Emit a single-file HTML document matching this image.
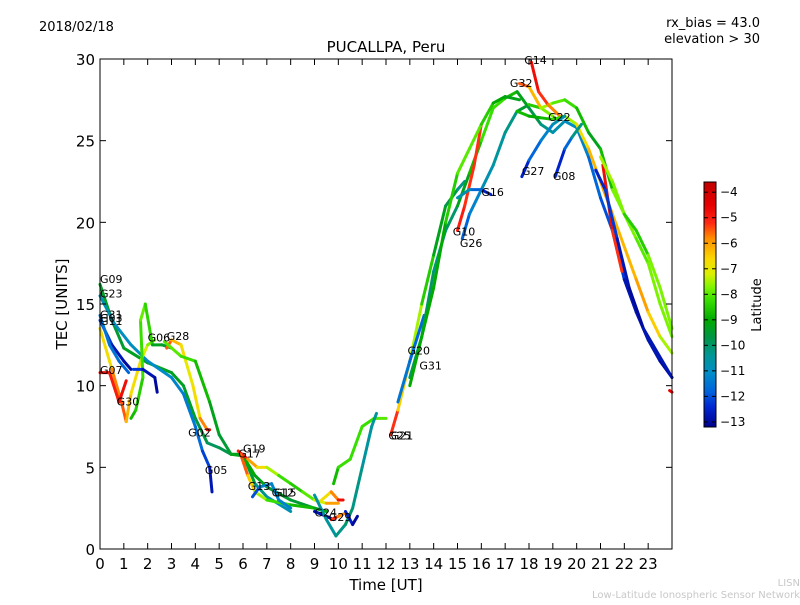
<!DOCTYPE html>
<html><head><meta charset="utf-8"><style>
body{margin:0;background:#fff;}
svg text{font-family:"DejaVu Sans","Liberation Sans",sans-serif;}
</style></head><body>
<svg id="chart" width="800" height="600" xmlns="http://www.w3.org/2000/svg">
<defs>
<linearGradient id="cbgrad" x1="0" y1="0" x2="0" y2="1"></linearGradient>
</defs>
<text x="39" y="31" font-size="13">2018/02/18</text>
<text x="760" y="27" font-size="13" text-anchor="end">rx_bias = 43.0</text>
<text x="760" y="43" font-size="13" text-anchor="end">elevation &gt; 30</text>
<text x="386" y="52" font-size="15" text-anchor="middle">PUCALLPA, Peru</text>
<g id="plot"></g>
<g id="axes"></g>
<text x="386" y="590" font-size="15" text-anchor="middle">Time [UT]</text>
<text transform="translate(67,304) rotate(-90)" font-size="15" text-anchor="middle">TEC [UNITS]</text>
<g id="cbar"></g>
<text transform="translate(761,305) rotate(-90)" font-size="13" text-anchor="middle">Latitude</text>
<text x="800" y="586" font-size="10" fill="#c8c8c8" text-anchor="end">LISN</text>
<text x="800" y="598" font-size="10" fill="#c8c8c8" text-anchor="end">Low-Latitude Ionospheric Sensor Network</text>
</svg>
<script>
// data: each track = array of [timeUT, tec, latitude]
const tracks = [
 [[0,16.2,-9.3],[0.5,14,-9.5],[1,12.3,-9.5],[2,11.4,-9.2],[3,10.8,-9.3],[3.5,10,-9.3],[4,8,-9.5],[4.5,6.5,-9.8],[5,6.2,-10],[5.5,5.8,-9.5],[6,5.8,-9],[6.5,4,-10],[7,3.2,-10.5],[8,2.3,-11]],
 [[0,15.5,-10.5],[0.6,13.8,-11],[1.3,12.5,-11],[2,11.5,-11],[3,10.5,-11.2],[3.5,9.5,-11.3],[4,7.5,-11.5],[4.3,6,-11.8],[4.6,5,-12.5],[4.7,3.5,-13]],
 [[0,14,-12],[0.5,12.5,-12.5],[1,11.5,-13],[1.3,11,-13]],
 [[0,14.3,-11.5],[0.4,12.5,-11.5],[0.8,11.5,-11.5],[1.2,10.8,-12]],
 [[0,13.5,-7],[0.5,11,-6.5],[0.9,9,-5],[1.1,7.8,-6],[1.3,9.5,-6.5],[1.7,11.5,-7],[2,12.5,-7.5],[2.3,12.8,-8]],
 [[0,10.8,-4.5],[0.4,10.8,-5],[0.8,9,-5],[1.1,10.3,-4.5]],
 [[1.3,8,-9],[1.5,8.5,-8.5],[1.8,10.5,-8.5],[1.7,14,-8],[1.9,15,-7.8],[2.2,12.5,-9],[2.6,12.5,-9.5],[3,12.3,-9.5]],
 [[1.4,11,-12],[1.8,11,-12.5],[2.3,10.5,-13],[2.4,9.6,-13]],
 [[2.8,12.3,-5],[3,12.8,-6],[3.4,12.5,-6.5],[3.6,11.5,-7],[3.9,10,-7],[4.2,8,-6.5],[4.5,7.3,-5],[4.6,7.3,-4.5]],
 [[2.7,12.7,-8],[3.4,11.8,-8],[4,11.5,-8.5],[4.6,9,-9],[5,7,-9.5],[5.5,5.8,-9.5],[6,5.7,-9],[6.5,4.5,-9],[7,3.8,-9.5],[8,3,-9.5],[9,2.5,-9.5],[9.5,2.3,-9.5]],
 [[5.8,6,-4.5],[6.2,5.5,-5.5],[6.6,5,-6.5],[7,5,-7],[7.5,4.5,-8],[8,4,-8.5],[8.5,3.5,-8.5],[9,3,-7.5],[9.5,2.8,-7],[10,2.8,-5]],
 [[5.9,5.8,-5],[6.2,4.5,-6],[6.5,3.5,-7],[7,3,-8],[8,2.7,-8.5],[9,2.5,-9],[9.5,2.3,-9.5]],
 [[6.4,3.2,-12.5],[6.7,3.8,-11.5],[7.2,4,-11],[7.5,3,-11.5],[8,2.5,-11]],
 [[9,2.3,-12.5],[9.5,2,-13],[9.8,1.8,-13]],
 [[9.7,1.8,-5],[10,2,-5.5],[10.3,2.2,-6]],
 [[9.3,3,-7],[9.7,3.5,-6.5],[10,3,-5],[10.2,3,-4.5]],
 [[9.8,4,-9],[10,5,-8.5],[10.5,5.5,-8],[11,7.5,-8.5],[11.5,8,-8],[12,8,-8]],
 [[9,3.3,-10.5],[9.5,1.8,-10.5],[9.9,0.8,-10.5],[10.3,1.5,-10],[10.6,2.5,-10],[11,5,-10.5],[11.4,7.5,-10.5],[11.6,8.3,-10.5]],
 [[10.3,2.3,-12],[10.6,1.5,-13],[10.8,2,-13]],
 [[12.2,7,-4.5],[12.5,8.5,-6],[13,11.5,-7],[13.5,15,-8],[14,18,-9],[14.5,21,-9.5],[15,22,-10],[15.3,22.5,-10.5]],
 [[12.5,9,-12],[13,11.5,-11],[13.6,14.3,-12.5]],
 [[13,10.5,-10],[13.5,13,-10],[14,17,-10],[14.5,19.5,-10.5],[15,21,-9.5],[15.5,23,-9],[16,25,-8.5],[16.5,27,-8],[17,27.6,-8.5],[17.5,28,-9],[18,27,-9.5],[18.5,26,-10],[19,25.5,-10.5],[19.5,26.2,-11],[20,25.8,-11],[20.5,24,-11.5],[21,21.5,-12],[21.5,19.5,-12],[22,16.5,-12.5],[22.5,14.5,-13],[23,12.8,-12.5],[23.5,11.5,-13],[24,10.5,-13]],
 [[15,19.5,-5],[15.3,21,-5],[15.7,23.5,-5.5],[16,26,-5]],
 [[15.2,19,-12],[15.5,20.5,-11.5],[16,22,-11],[16.5,23.5,-10.5],[17,25.5,-10.5],[17.5,26.8,-10],[18,27.2,-9],[18.5,27,-8],[19,26.5,-7.5]],
 [[17.6,28.5,-5.5],[18,28.3,-5.5],[18.5,27,-7],[19,27.3,-8],[19.5,27.5,-8],[20,27,-8.5],[20.5,25.5,-9],[21,24.5,-9.5],[21.5,22,-8],[22,20.5,-7.5],[22.5,19,-8],[23,17.5,-8],[23.5,15,-7.5],[24,13,-8]],
 [[18.1,29.8,-4.5],[18.4,28,-5],[18.8,27.2,-5.5],[19.3,26.5,-6]],
 [[17.5,26.8,-8.5],[18,26.5,-9],[18.5,26.4,-9],[19,26.3,-8.5],[19.5,26.5,-8],[20,26,-7],[20.5,24.5,-6.5],[21,22.5,-6],[21.5,20.5,-6],[22,18.5,-6.5],[22.5,16.5,-6],[23,14.5,-6],[23.5,13,-7],[24,12,-8]],
 [[13,10,-9],[14,16,-9],[14.5,20,-9],[15,23,-8],[15.5,24.5,-8],[16,26,-8],[16.5,27.3,-9],[17,27.7,-9],[17.6,27.5,-9.5]],
 [[17.7,22.8,-13],[18,23.8,-12],[18.5,25,-11.5],[19,26,-11],[19.5,26.5,-10.5]],
 [[19.1,22.8,-13],[19.5,24.5,-12],[19.8,25.2,-11.5],[20.2,26,-9]],
 [[16.4,21.7,-12.5],[16,22,-12.5],[15.5,22,-11],[15,21.5,-10.5]],
 [[21.1,23.5,-4.5],[21.5,19.5,-5],[21.9,17,-5.5]],
 [[20.8,23.2,-13],[21.2,22,-12],[21.7,19,-12.5],[22.2,16,-13],[22.8,13.5,-13],[23.2,12.5,-12.5],[23.8,11,-13],[24,10.5,-12.5]],
 [[23.9,9.7,-4.5],[24,9.6,-4.5]],
 [[21,24,-7.5],[21.5,22.5,-7.5],[22,20.5,-8],[22.5,19.5,-9],[23,18,-8],[23.5,16,-7.5],[24,13.5,-8]]
];
const labelNames = ["G09","G23","G31","G03","G11","G07","G30","G06","G28","G02","G05","G19","G17","G13","G12","G15","G24","G29","G25","G21","G20","G31","G10","G26","G16","G14","G32","G22","G27","G08"];
const labelTimes = [0,0,0,0,0,0,0.7,2,2.8,3.7,4.4,6,5.8,6.2,7.2,7.3,9,9.6,12.1,12.2,12.9,13.4,14.8,15.1,16,17.8,17.2,18.8,17.7,19];
const labelTecs = [16.3,15.4,14.1,13.9,13.7,10.7,8.8,12.7,12.8,6.9,4.6,5.9,5.6,3.6,3.2,3.2,2,1.7,6.7,6.7,11.9,11,19.2,18.5,21.6,29.7,28.3,26.2,22.9,22.6];
const yTicks = [0,5,10,15,20,25,30];
const xTicks = [0,1,2,3,4,5,6,7,8,9,10,11,12,13,14,15,16,17,18,19,20,21,22,23];
const cbTicks = [-4,-5,-6,-7,-8,-9,-10,-11,-12,-13];

const X0=100,X1=672,Y0=549,Y1=59;
const xs=t=>X0+t*(X1-X0)/24;
const ys=v=>Y0-v*(Y0-Y1)/30;
const CB_TOP=182,CB_BOT=427,LAT_TOP=-3.6,LAT_BOT=-13.2;
const cby=l=>CB_TOP+(LAT_TOP-l)*(CB_BOT-CB_TOP)/(LAT_TOP-LAT_BOT);
const stops=[[-3.6,[192,0,0]],[-4.5,[230,0,0]],[-5.2,[255,40,20]],[-5.8,[255,140,0]],[-6.6,[250,215,0]],[-7.2,[220,240,0]],[-7.7,[130,245,0]],[-8.2,[60,225,0]],[-9,[0,170,0]],[-9.7,[0,150,70]],[-10.4,[0,150,150]],[-11.1,[0,140,200]],[-11.8,[0,100,220]],[-12.4,[0,40,210]],[-13.2,[0,0,140]]];
function col(l){
 if(l>=stops[0][0])return'rgb('+stops[0][1]+')';
 for(let i=1;i<stops.length;i++){if(l>=stops[i][0]){const a=stops[i-1],b=stops[i],f=(a[0]-l)/(a[0]-b[0]);return'rgb('+a[1].map((c,j)=>Math.round(c+(b[1][j]-c)*f)).join(',')+')';}}
 return'rgb('+stops[stops.length-1][1]+')';
}
const NS='http://www.w3.org/2000/svg';
function mk(tag,attrs,parent){const e=document.createElementNS(NS,tag);for(const k in attrs)e.setAttribute(k,attrs[k]);parent.appendChild(e);return e;}
const plot=document.getElementById('plot'),axes=document.getElementById('axes'),cbar=document.getElementById('cbar');
tracks.forEach((tr,ti)=>{
 const g=mk('g',{},plot);
 
 
 for(let i=0;i<tr.length-1;i++){
  const a=tr[i],b=tr[i+1];
  const s=mk('line',{x1:xs(a[0]),y1:ys(a[1]),x2:xs(b[0]),y2:ys(b[1]),stroke:col((a[2]+b[2])/2),'stroke-width':3,'stroke-linecap':'round'},g);
  
  
 }
});
labelNames.forEach((n,i)=>{
 const t=mk('text',{x:xs(labelTimes[i]),y:ys(labelTecs[i]),'font-size':11},plot);
 t.textContent=n;
 
 
});
const frame=mk('rect',{x:X0,y:Y1,width:X1-X0,height:Y0-Y1,fill:'none',stroke:'#000','stroke-width':1},axes);


xTicks.forEach(v=>{
 const x=xs(v);
 mk('line',{x1:x,y1:Y0,x2:x,y2:Y0-6,stroke:'#000'},axes);
 mk('line',{x1:x,y1:Y1,x2:x,y2:Y1+6,stroke:'#000'},axes);
 const t=mk('text',{x:x,y:Y0+20,'font-size':15,'text-anchor':'middle'},axes);
 t.textContent=v;
 
 
});
yTicks.forEach(v=>{
 const y=ys(v);
 mk('line',{x1:X0,y1:y,x2:X0+6,y2:y,stroke:'#000'},axes);
 mk('line',{x1:X1,y1:y,x2:X1-6,y2:y,stroke:'#000'},axes);
 const t=mk('text',{x:X0-5,y:y+6,'font-size':15,'text-anchor':'end'},axes);
 t.textContent=v;
 
 
});
const grad=document.getElementById('cbgrad');
for(let i=0;i<stops.length;i++){
 const off=(cby(stops[i][0])-CB_TOP)/(CB_BOT-CB_TOP);
 mk('stop',{offset:off,'stop-color':'rgb('+stops[i][1]+')'},grad);
}
const cr=mk('rect',{x:704,y:CB_TOP,width:12,height:CB_BOT-CB_TOP,fill:'url(#cbgrad)',stroke:'#000','stroke-width':1},cbar);


cbTicks.forEach(v=>{
 const y=cby(v);
 mk('line',{x1:704,y1:y,x2:708,y2:y,stroke:'#000'},cbar);
 mk('line',{x1:716,y1:y,x2:712,y2:y,stroke:'#000'},cbar);
 const t=mk('text',{x:720,y:y+4,'font-size':12},cbar);
 t.textContent='\u2212'+Math.abs(v);
 
 
});
</script>
</body></html>
